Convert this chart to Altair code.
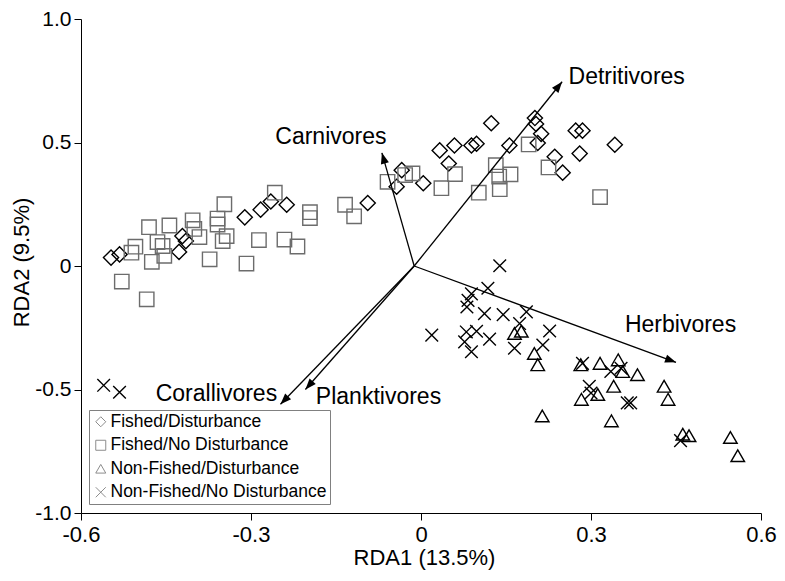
import math
import altair as alt
import pandas as pd

# ---------------- data ----------------
groups = ["Fished/Disturbance", "Fished/No Disturbance",
          "Non-Fished/Disturbance", "Non-Fished/No Disturbance"]

fd_x = [-0.547, -0.532, -0.421, -0.415, -0.427, -0.311, -0.283, -0.265, -0.237, -0.094,
        -0.034, -0.043, 0.004, 0.033, 0.059, 0.049, 0.089, 0.098, 0.124, 0.156,
        0.201, 0.203, 0.212, 0.206, 0.236, 0.250, 0.273, 0.285, 0.280, 0.342]
fd_y = [0.034, 0.047, 0.121, 0.101, 0.057, 0.197, 0.228, 0.261, 0.248, 0.255,
        0.388, 0.321, 0.335, 0.468, 0.488, 0.415, 0.488, 0.495, 0.578, 0.488,
        0.599, 0.575, 0.535, 0.498, 0.442, 0.378, 0.548, 0.548, 0.455, 0.491]

fn_x = [-0.480, -0.444, -0.403, -0.400, -0.504, -0.511, -0.465, -0.456, -0.453, -0.475,
        -0.528, -0.484, -0.258, -0.347, -0.359, -0.359, -0.391, -0.343, -0.350, -0.373,
        -0.308, -0.286, -0.241, -0.218, -0.196, -0.196, -0.134, -0.118, -0.059, -0.028,
        -0.015, 0.036, 0.060, 0.102, 0.132, 0.138, 0.158, 0.139, 0.190, 0.225, 0.316]
fn_y = [0.157, 0.164, 0.185, 0.150, 0.078, 0.054, 0.097, 0.081, 0.041, 0.017,
        -0.063, -0.135, 0.297, 0.250, 0.192, 0.168, 0.117, 0.121, 0.101, 0.027,
        0.010, 0.105, 0.107, 0.079, 0.218, 0.194, 0.248, 0.201, 0.341, 0.368,
        0.375, 0.315, 0.372, 0.297, 0.408, 0.362, 0.371, 0.311, 0.492, 0.399, 0.279]

nd_x = [0.165, 0.177, 0.200, 0.206, 0.214, 0.282, 0.316, 0.348, 0.356, 0.382,
        0.340, 0.312, 0.283, 0.336, 0.429, 0.436, 0.462, 0.473, 0.546, 0.559]
nd_y = [-0.273, -0.264, -0.354, -0.400, -0.607, -0.400, -0.394, -0.380, -0.427, -0.440,
        -0.487, -0.520, -0.540, -0.627, -0.487, -0.540, -0.681, -0.687, -0.694, -0.768]

nn_x = [0.139, 0.118, 0.089, 0.083, 0.081, 0.112, 0.145, 0.186, 0.174, 0.227,
        0.019, 0.080, 0.098, 0.121, 0.077, 0.089, 0.165, 0.215, 0.285, 0.335,
        0.353, 0.297, 0.300, 0.364, 0.370, 0.458, -0.560, -0.532]
nn_y = [0.001, -0.090, -0.113, -0.139, -0.166, -0.193, -0.197, -0.186, -0.233, -0.263,
        -0.280, -0.267, -0.264, -0.296, -0.307, -0.347, -0.333, -0.320, -0.394, -0.427,
        -0.414, -0.487, -0.514, -0.554, -0.554, -0.707, -0.483, -0.511]

species = ["Detritivores", "Carnivores", "Herbivores", "Corallivores", "Planktivores"]
origin_x, origin_y = -0.012, 0.0
tip_x = [0.249, -0.069, 0.450, -0.248, -0.204]
tip_y = [0.746, 0.458, -0.390, -0.560, -0.500]
label_x = [0.363, -0.159, 0.458, -0.361, -0.075]
label_y = [0.765, 0.522, -0.240, -0.519, -0.530]

x_ticks = [-0.6, -0.3, 0, 0.3, 0.6]
y_ticks = [-1.0, -0.5, 0, 0.5, 1.0]

# ---------------- tables ----------------
rows = []
for g, xs_, ys_ in zip(groups, [fd_x, fn_x, nd_x, nn_x], [fd_y, fn_y, nd_y, nn_y]):
    for a, b in zip(xs_, ys_):
        rows.append({"x": a, "y": b, "group": g, "gs": g, "gz": g})
pts_df = pd.DataFrame(rows)

W, H = 680, 494
XMIN, XMAX, YMIN, YMAX = -0.6, 0.6, -1.0, 1.0
sx = W / (XMAX - XMIN)
sy = H / (YMAX - YMIN)

arr_rows = []
for name, tx, ty, lx, ly in zip(species, tip_x, tip_y, label_x, label_y):
    dx, dy = tx - origin_x, ty - origin_y
    ang = math.degrees(math.atan2(dx * sx, dy * sy)) % 360
    arr_rows.append({"name": name, "ox": origin_x, "oy": origin_y, "tx": tx, "ty": ty,
                     "angle": ang, "lx": lx, "ly": ly})
arr_df = pd.DataFrame(arr_rows)

FONT = "Liberation Sans"
XPATH = "M-1,-1L1,1M1,-1L-1,1"
HEAD = "M0,0L-0.75,2L0.75,2Z"

xscale = alt.Scale(domain=[XMIN, XMAX], nice=False, zero=False)
yscale = alt.Scale(domain=[YMIN, YMAX], nice=False, zero=False)
lab = ("datum.value == 0 ? '0' : (datum.value < 0 ? '-' + format(-datum.value, '.1f')"
       " : format(datum.value, '.1f'))")

common_axis = dict(labelExpr=lab, grid=False, domainColor="black", tickColor="black",
                   tickSize=7, tickWidth=1, titleFontSize=22,
                   labelFont=FONT, titleFont=FONT, labelColor="black", titleColor="black",
                   titleFontWeight="normal", labelFlush=False, labelOverlap=False,
                   labelBound=False)
xaxis = alt.Axis(values=x_ticks, title="RDA1 (13.5%)", labelPadding=4, labelFontSize=22,
                 titleX=W / 2 + 3, titleY=44, titleBaseline="middle", **common_axis)
yaxis = alt.Axis(values=y_ticks, title="RDA2 (9.5%)", labelPadding=3, labelFontSize=21,
                 titleX=-60, titleY=H / 2 - 4, titleAngle=270, titleAlign="center",
                 titleBaseline="middle", **common_axis)

points = alt.Chart(pts_df).mark_point(filled=False, strokeWidth=1.4, opacity=1).encode(
    x=alt.X("x:Q", scale=xscale, axis=xaxis),
    y=alt.Y("y:Q", scale=yscale, axis=yaxis),
    shape=alt.Shape("group:N",
                    scale=alt.Scale(domain=groups,
                                    range=["diamond", "square", "triangle-up", XPATH]),
                    legend=alt.Legend(title=None, orient="none", legendX=8, legendY=391,
                                      strokeColor="#808080", padding=3,
                                      labelFontSize=17.5, labelFont=FONT, labelColor="black",
                                      labelLimit=400,
                                      symbolSize=100, symbolStrokeColor="#8c8c8c",
                                      symbolStrokeWidth=1, symbolFillColor="transparent",
                                      rowPadding=4.5, labelOffset=1)),
    stroke=alt.Stroke("gs:N",
                      scale=alt.Scale(range=["#000000", "#6c6c6c", "#000000", "#000000"]),
                      legend=None),
    size=alt.Size("gz:N",
                  scale=alt.Scale(range=[230, 160, 280, 300]),
                  legend=None),
)

lines = alt.Chart(arr_df).mark_rule(color="black", strokeWidth=1.3).encode(
    x=alt.X("ox:Q", scale=xscale), y=alt.Y("oy:Q", scale=yscale),
    x2="tx:Q", y2="ty:Q")

heads = alt.Chart(arr_df).mark_point(filled=True, shape=HEAD, color="black",
                                     size=121, opacity=1, strokeWidth=0).encode(
    x=alt.X("tx:Q", scale=xscale), y=alt.Y("ty:Q", scale=yscale),
    angle=alt.Angle("angle:Q", scale=None))

labels = alt.Chart(arr_df).mark_text(font=FONT, fontSize=23, color="black",
                                     align="center", baseline="middle").encode(
    x=alt.X("lx:Q", scale=xscale), y=alt.Y("ly:Q", scale=yscale), text="name:N")

chart = alt.layer(points, lines, heads, labels).properties(
    width=W, height=H, autosize=alt.AutoSizeParams(type="none"),
    padding={"left": 73, "top": 11, "right": 16, "bottom": 60}
).configure_view(stroke=None)

chart.save("out.html", embed_options={"renderer": "svg", "actions": False})
